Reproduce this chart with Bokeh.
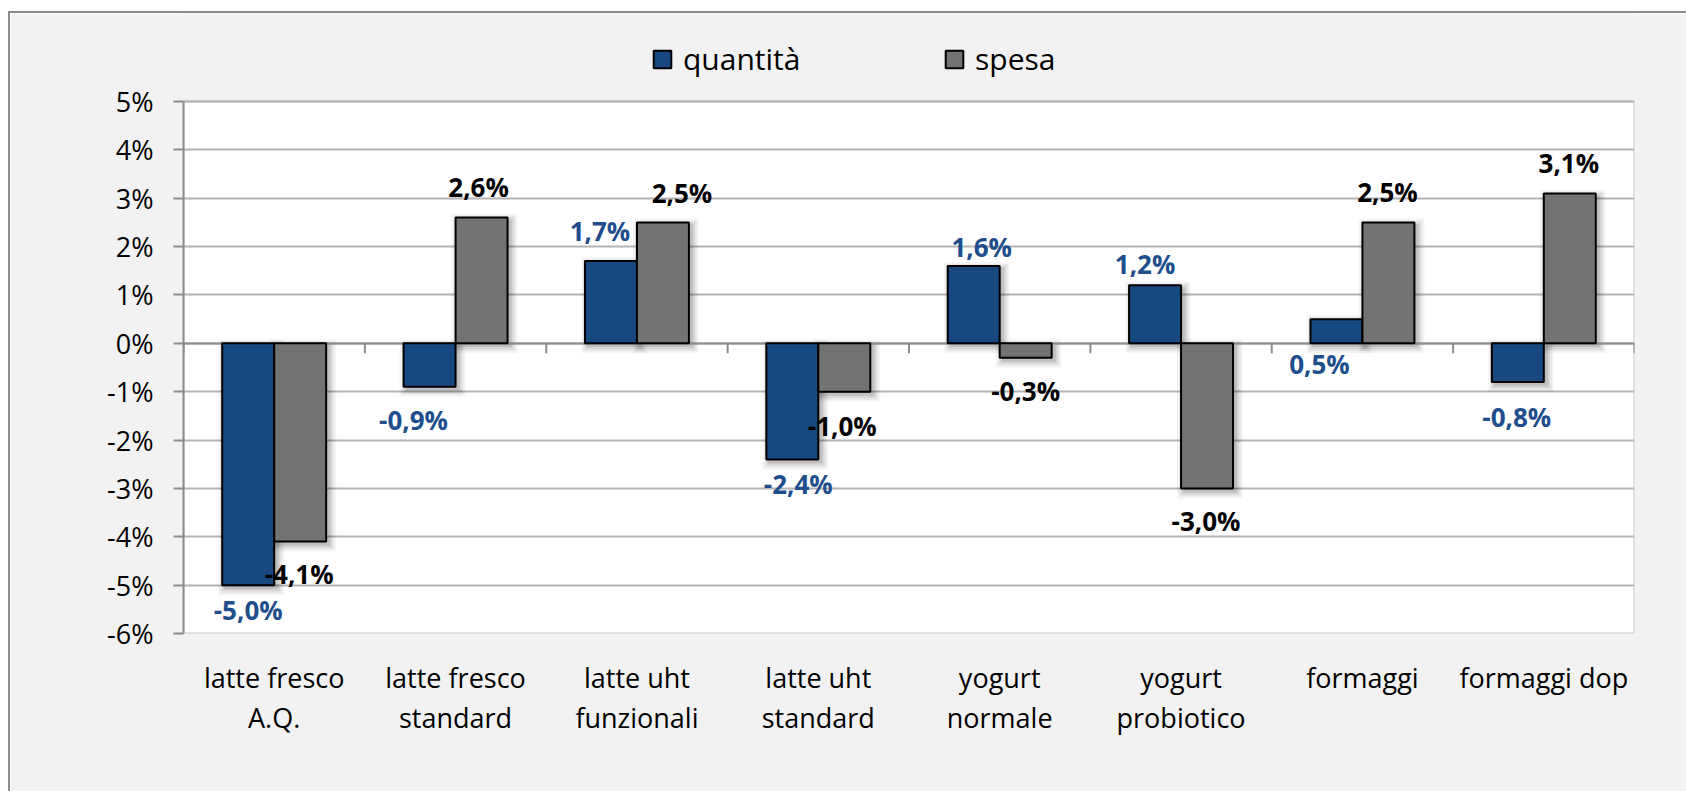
import numpy as np
from bokeh.plotting import figure
from bokeh.models import ColumnDataSource, Range1d, FixedTicker, Legend, LegendItem
from bokeh.core.properties import value
from bokeh.embed import file_html
from bokeh.resources import INLINE

# ---------------- data ----------------
categories = ["latte fresco\nA.Q.", "latte fresco\nstandard", "latte uht\nfunzionali",
              "latte uht\nstandard", "yogurt\nnormale", "yogurt\nprobiotico",
              "formaggi", "formaggi dop"]
quantita = [-5.0, -0.9, 1.7, -2.4, 1.6, 1.2, 0.5, -0.8]
spesa = [-4.1, 2.6, 2.5, -1.0, -0.3, -3.0, 2.5, 3.1]
series_names = ["quantità", "spesa"]
y_ticks = [-6, -5, -4, -3, -2, -1, 0, 1, 2, 3, 4, 5]
y_tick_labels = ["-6%", "-5%", "-4%", "-3%", "-2%", "-1%", "0%", "1%", "2%", "3%", "4%", "5%"]

# label nudges in screen px (styling only)
q_dx = [0, -16, -11, 6, 8, -10, -17, -1]
q_away = [25, 33, 30, 25, 19, 21, -45, 35]
s_dx = [-1, -3, 19, -2, 0, -1, -1, -1]
s_away = [32, 31, 29, 34, 33, 33, 30, 30]

# ---------------- styling ----------------
FONT = "Open Sans"
BLUE = "#17487f"
BLUE_TXT = "#1f4e8c"
GREY = "#737373"
AXIS = "#8c8c8c"
BG = "#f2f2f2"

PLOT_W, PLOT_H = 1451, 532   # white plot area in px
TOP_BAND = 88                # grey band above plot area (legend lives here)
n = len(categories)
BAR_W = 0.2866
ux = n / PLOT_W
uy = (y_ticks[-1] - y_ticks[0]) / PLOT_H
y_top = y_ticks[-1] + TOP_BAND * uy

p = figure(frame_width=PLOT_W, frame_height=PLOT_H + TOP_BAND,
           x_range=Range1d(0, n), y_range=Range1d(y_ticks[0], y_top),
           output_backend="svg", toolbar_location=None,
           min_border_left=173, min_border_top=0, min_border_right=52, min_border_bottom=158,
           background_fill_color=BG, border_fill_color=BG,
           outline_line_color=None)
p.margin = (11, 0, 0, 8)
p.styles = {"border-top": "2px solid #8c8c8c", "border-left": "2px solid #8c8c8c"}

# white plot area with light border
p.quad(left=0, right=n, bottom=y_ticks[0], top=y_ticks[-1], fill_color="white",
       line_color="#c8c8c8", line_width=2)
# horizontal gridlines
p.hspan(y=y_ticks[1:], line_color="#b4b4b4", line_width=2)

xc = np.arange(n) + 0.5
xq = xc - BAR_W / 2
xs = xc + BAR_W / 2
qv = np.array(quantita)
sv = np.array(spesa)

# shadows
for e, a in [(7, 0.04), (5, 0.055), (3, 0.075), (1, 0.1)]:
    for xx, vv in [(xq, qv), (xs, sv)]:
        p.quad(left=xx - BAR_W / 2 + (3 - e) * ux, right=xx + BAR_W / 2 + (3 + e) * ux,
               top=np.maximum(vv, 0) + (e - 3) * uy, bottom=np.minimum(vv, 0) - (3 + e) * uy,
               fill_color="black", fill_alpha=a, line_color=None)

# zero line and category ticks
p.hspan(y=[0], line_color=AXIS, line_width=2)
p.ray(x=np.arange(n + 1), y=np.zeros(n + 1), length=10, angle=-np.pi / 2,
      length_units="screen", line_color=AXIS, line_width=2)

src_q = ColumnDataSource(dict(x=xq, top=qv))
src_s = ColumnDataSource(dict(x=xs, top=sv))
r_q = p.vbar(x="x", top="top", bottom=0, width=BAR_W, source=src_q,
             fill_color=BLUE, line_color="black", line_width=2)
r_s = p.vbar(x="x", top="top", bottom=0, width=BAR_W, source=src_s,
             fill_color=GREY, line_color="black", line_width=2)

def fmt(v):
    return f"{v:.1f}".replace(".", ",") + "%"

lab_q = ColumnDataSource(dict(x=xq, y=qv, t=[fmt(v) for v in quantita], dx=q_dx,
                              dy=[-a if v >= 0 else a for v, a in zip(quantita, q_away)]))
lab_s = ColumnDataSource(dict(x=xs, y=sv, t=[fmt(v) for v in spesa], dx=s_dx,
                              dy=[-a if v >= 0 else a for v, a in zip(spesa, s_away)]))
for src, col in [(lab_q, BLUE_TXT), (lab_s, "black")]:
    p.text(x="x", y="y", text="t", x_offset="dx", y_offset="dy", source=src,
           text_font=value(FONT), text_font_style="bold", text_font_size="26px",
           text_align="center", text_baseline="middle", text_color=col)

# axes
p.xgrid.visible = False
p.ygrid.visible = False

p.yaxis.ticker = FixedTicker(ticks=y_ticks)
p.yaxis.bounds = (y_ticks[0], y_ticks[-1])
p.yaxis.major_label_overrides = {t: l for t, l in zip(y_ticks, y_tick_labels)}
p.yaxis.axis_line_color = AXIS
p.yaxis.axis_line_width = 2
p.yaxis.major_tick_line_color = AXIS
p.yaxis.major_tick_line_width = 2
p.yaxis.major_tick_out = 10
p.yaxis.major_tick_in = 0
p.yaxis.minor_tick_line_color = None
p.yaxis.major_label_text_font = FONT
p.yaxis.major_label_text_font_size = "27px"
p.yaxis.major_label_text_color = "black"
p.yaxis.major_label_standoff = 20

p.xaxis.ticker = FixedTicker(ticks=list(xc))
p.xaxis.major_label_overrides = {float(x): c for x, c in zip(xc, categories)}
p.xaxis.axis_line_color = None
p.xaxis.major_tick_line_color = None
p.xaxis.minor_tick_line_color = None
p.xaxis.major_label_text_font = FONT
p.xaxis.major_label_text_font_size = "27px"
p.xaxis.major_label_text_color = "black"
p.xaxis.major_label_text_line_height = 1.1
p.xaxis.major_label_standoff = 19

# legends (inside the frame, in the grey band)
for name, r, lx in [(series_names[0], r_q, 468), (series_names[1], r_s, 760)]:
    leg = Legend(items=[LegendItem(label=name, renderers=[r])], location=(lx, 554),
                 orientation="horizontal", border_line_color=None, background_fill_alpha=0,
                 padding=0, margin=0, glyph_width=22, glyph_height=22, label_standoff=10,
                 label_text_font=FONT, label_text_font_size="30px", label_text_color="black")
    p.add_layout(leg)

open("out.html", "w").write(file_html(p, INLINE))
